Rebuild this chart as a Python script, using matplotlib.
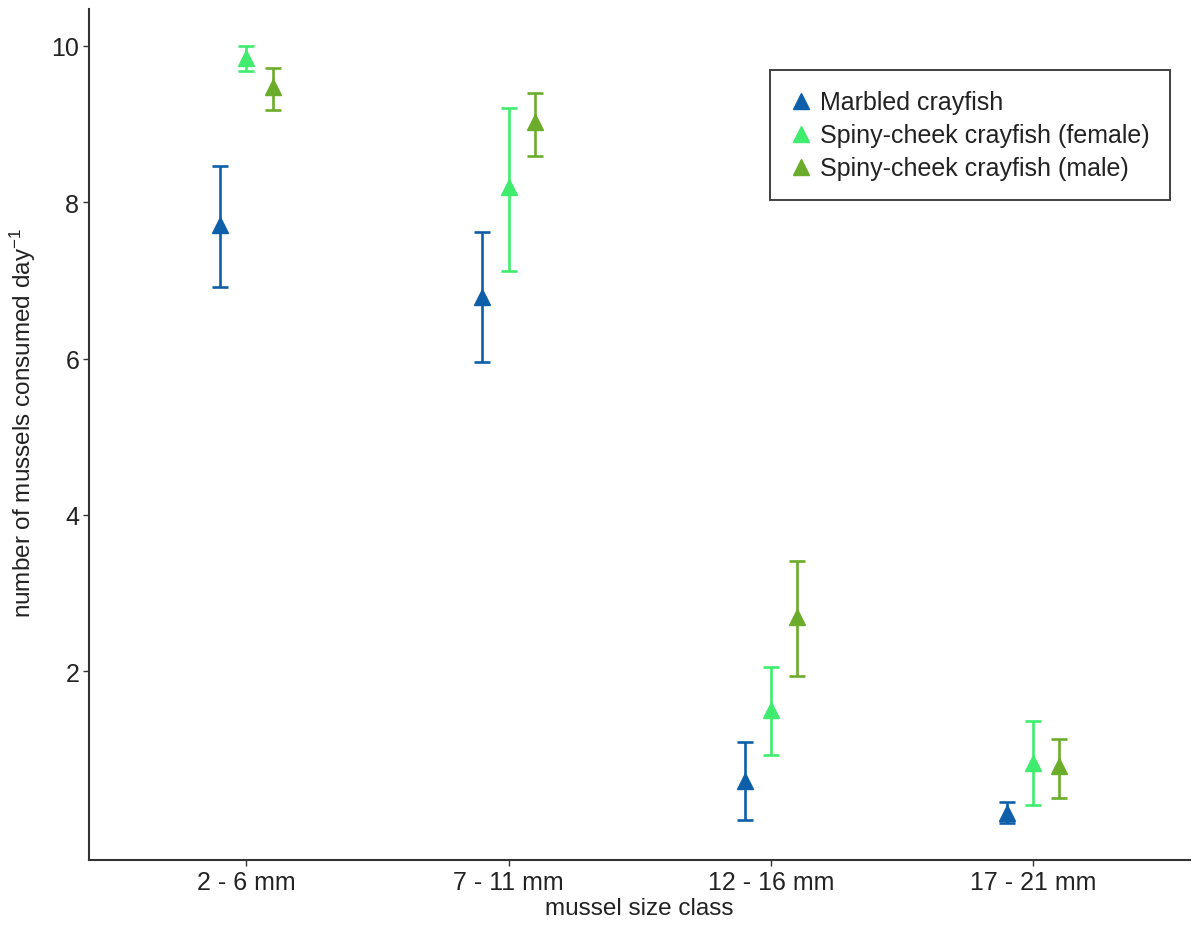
import matplotlib.pyplot as plt
import numpy as np
from matplotlib.lines import Line2D

plt.rcParams["font.family"] = ["Liberation Sans", "DejaVu Sans"]
plt.rcParams["mathtext.default"] = "regular"

size_classes = ["2 - 6 mm", "7 - 11 mm", "12 - 16 mm", "17 - 21 mm"]
groups = ["Marbled crayfish", "Spiny-cheek crayfish (female)", "Spiny-cheek crayfish (male)"]
colors = ["#0E5FAA", "#3FEC6E", "#6BAD2A"]

marbled_mean = [7.71, 6.79, 0.59, 0.18]
marbled_low = [6.91, 5.96, 0.09, 0.05]
marbled_high = [8.47, 7.62, 1.09, 0.32]

female_mean = [9.85, 8.19, 1.50, 0.83]
female_low = [9.68, 7.12, 0.92, 0.28]
female_high = [10.0, 9.21, 2.05, 1.36]

male_mean = [9.47, 9.03, 2.69, 0.78]
male_low = [9.18, 8.59, 1.94, 0.38]
male_high = [9.72, 9.40, 3.41, 1.13]

means = [marbled_mean, female_mean, male_mean]
lows = [marbled_low, female_low, male_low]
highs = [marbled_high, female_high, male_high]
offsets = [-0.1, 0.0, 0.1]


def main() -> None:
    fig = plt.figure(figsize=(11.96, 9.29), dpi=100)
    ax = fig.add_axes([0.0744, 0.073, 0.921, 0.916])

    x = np.arange(len(size_classes))
    for i in range(len(groups)):
        m = np.array(means[i])
        lo = m - np.array(lows[i])
        hi = np.array(highs[i]) - m
        ax.errorbar(x + offsets[i], m, yerr=[lo, hi], fmt="none",
                    ecolor=colors[i], elinewidth=1.9, capsize=6, capthick=1.9, zorder=2)
        ax.plot(x + offsets[i], m, linestyle="none", marker="^", markersize=11,
                color=colors[i], zorder=3)

    ax.set_xlim(-0.6, 3.6)
    ax.set_ylim(-0.42, 10.47)
    ax.set_xticks(x)
    ax.set_xticklabels(size_classes)
    ax.set_yticks([2, 4, 6, 8, 10])
    ax.tick_params(axis="both", labelsize=18, colors="#333333", length=4, width=1.0,
                   labelcolor="#222222", pad=3)
    for side in ["top", "right"]:
        ax.spines[side].set_visible(False)
    for side in ["left", "bottom"]:
        ax.spines[side].set_linewidth(1.5)
        ax.spines[side].set_color("#333333")

    ax.set_xlabel("mussel size class", fontsize=17.5, labelpad=2, color="#222222")
    ax.set_ylabel("number of mussels consumed day$^{-1}$", fontsize=17.5,
                  color="#222222")
    ax.yaxis.set_label_coords(-0.046, 0.515)

    handles = [Line2D([], [], linestyle="none", marker="^", markersize=11, color=c)
               for c in colors]
    leg = ax.legend(handles, groups, loc="upper right", bbox_to_anchor=(0.981, 0.928),
                    borderaxespad=0, fontsize=18, frameon=True, fancybox=False,
                    handlelength=0.9, handletextpad=0.3, borderpad=0.8,
                    labelspacing=0.36)
    leg.get_frame().set_edgecolor("black")
    leg.get_frame().set_linewidth(1.3)
    for t in leg.get_texts():
        t.set_color("#222222")

    fig.savefig("out.png", dpi=100)


if __name__ == "__main__":
    main()
